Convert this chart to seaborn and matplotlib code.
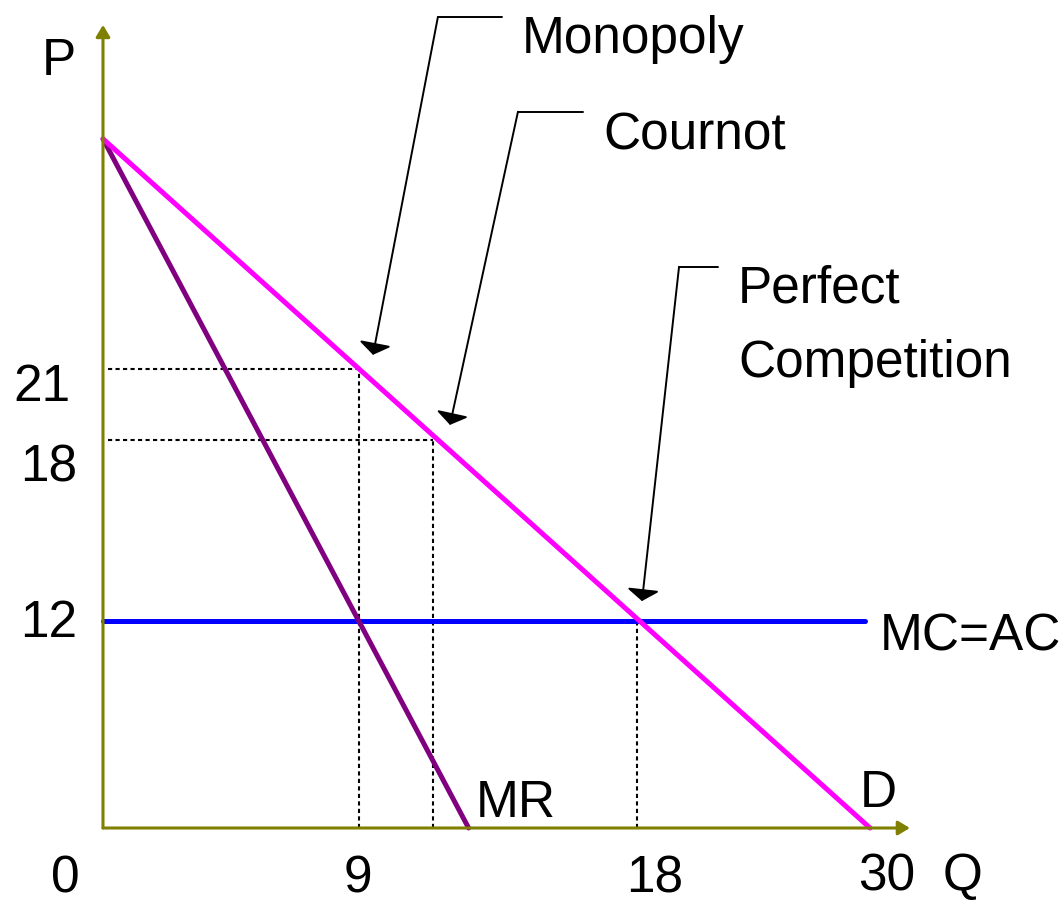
import matplotlib
matplotlib.use("Agg")
import matplotlib.pyplot as plt
import seaborn as sns
import pandas as pd

# values as drawn in the diagram (not to scale with the printed labels)
demand_q = [0, 30]
demand_p = [30, 0]
mr_q = [0, 14.3]
mr_p = [30, 0]
mc_q = [0, 29.8]
mc_p = [9, 9]

# monopoly, cournot, perfect competition
eq_names = ["Monopoly", "Cournot", "Perfect\nCompetition"]
eq_q = [10.0, 12.9, 20.9]
eq_p = [20.0, 16.9, 9.0]

p_labels = ["21", "18", "12"]
q_labels = ["0", "9", "18", "30"]

sns.set_style("white")
plt.rcParams['font.family'] = ['Liberation Sans', 'DejaVu Sans']
plt.rcParams['text.color'] = 'black'

fig = plt.figure(figsize=(10.6, 9.04), dpi=100)
ax = fig.add_axes([0, 0, 1, 1])
ax.set_xlim(-4.028, 37.43)
ax.set_ylim(-3.265, 36.09)
ax.axis('off')

olive = '#808000'
fs = 37

# dotted guides
for q, p in zip(eq_q[:2], eq_p[:2]):
    ax.plot([0.2, q], [p, p], color='black', lw=1.5, ls=(0, (2, 1.6)))
for q, p in zip(eq_q, eq_p):
    ax.plot([q, q], [0, p], color='black', lw=1.5, ls=(0, (2, 1.6)))

# axes with arrow heads
ax.annotate("", xy=(0, 34.96), xytext=(0, 0),
            arrowprops=dict(arrowstyle='-|>,head_length=0.5,head_width=0.3',
                            color=olive, lw=2.2, mutation_scale=14,
                            shrinkA=0, shrinkB=0))
ax.annotate("", xy=(31.56, 0), xytext=(0, 0),
            arrowprops=dict(arrowstyle='-|>,head_length=0.5,head_width=0.3',
                            color=olive, lw=2.2, mutation_scale=14,
                            shrinkA=0, shrinkB=0))

# curves
curves = pd.DataFrame({
    'Q': mc_q + mr_q + demand_q,
    'P': mc_p + mr_p + demand_p,
    'curve': ['MC'] * 2 + ['MR'] * 2 + ['D'] * 2,
})
sns.lineplot(data=curves, x='Q', y='P', hue='curve', estimator=None, sort=False,
             palette={'MC': '#0000FF', 'MR': '#800080', 'D': '#FF00FF'},
             lw=3.6, legend=False, ax=ax, solid_capstyle='round')

# callout arrows: horizontal stub then slanted arrow
callouts = [((15.61, 35.31), (13.10, 35.31), (10.56, 20.60)),
            ((18.77, 31.18), (16.23, 31.18), (13.57, 17.55)),
            ((24.05, 24.43), (22.53, 24.43), (21.08, 9.88))]
for start, corner, tip in callouts:
    ax.plot([start[0], corner[0]], [start[1], corner[1]], color='black', lw=1.4)
    ax.annotate("", xy=tip, xytext=corner,
                arrowprops=dict(arrowstyle='-|>,head_length=0.35,head_width=0.5',
                                color='black', lw=1.4, mutation_scale=20,
                                shrinkA=0, shrinkB=0))

# callout labels
ax.text(16.39, 33.79, eq_names[0], fontsize=fs, va='baseline')
ax.text(19.56, 29.57, eq_names[1], fontsize=fs, va='baseline')
ax.text(24.84, 22.90, "Perfect", fontsize=fs, va='baseline')
ax.text(24.84, 19.68, "Competition", fontsize=fs, va='baseline')

# curve labels
ax.text(30.39, 7.75, "MC=AC", fontsize=fs, va='baseline')
ax.text(14.59, 0.52, "MR", fontsize=fs, va='baseline')
ax.text(29.61, 0.96, "D", fontsize=fs, va='baseline')

# axis labels
ax.text(-2.39, 32.83, "P", fontsize=fs, va='baseline')
ax.text(32.82, -2.66, "Q", fontsize=fs, va='baseline')

# price labels
for lab, x, y in zip(p_labels, [-3.52, -3.25, -3.25], [18.64, 15.15, 8.36]):
    ax.text(x, y, lab, fontsize=fs, va='baseline')

# quantity labels
ax.text(-1.47, -2.75, q_labels[0], fontsize=fs, va='baseline', ha='center')
ax.text(9.97, -2.75, q_labels[1], fontsize=fs, va='baseline', ha='center')
ax.text(21.59, -2.75, q_labels[2], fontsize=fs, va='baseline', ha='center')
ax.text(30.65, -2.66, q_labels[3], fontsize=fs, va='baseline', ha='center')

plt.savefig('out.png', dpi=100)
